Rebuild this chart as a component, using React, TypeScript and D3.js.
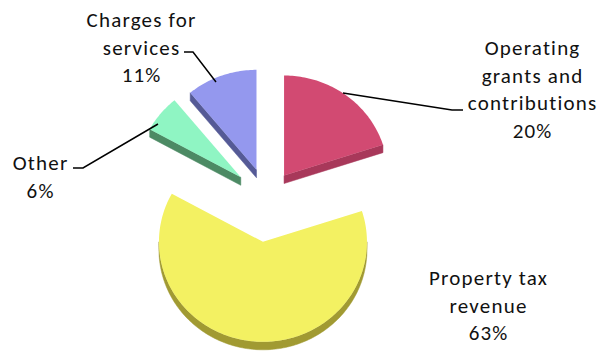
import React from "react";
import * as d3 from "d3";

const categories = [
  "Operating grants and contributions",
  "Property tax revenue",
  "Other",
  "Charges for services",
];
const values = [20, 63, 6, 11];
const labelLines = [
  ["Operating", "grants and", "contributions", "20%"],
  ["Property tax", "revenue", "63%"],
  ["Other", "6%"],
  ["Charges for", "services", "11%"],
];

// styles / layout (not data)
const topColors = ["#d24a72", "#f3f162", "#8ff5c3", "#9498ee"];
const wallColors = ["#a8385a", "#a19a32", "#4c8a64", "#555a96"];
const explode = [29, 43, 34, 31];
const labelPos = [
  { x: 532, y: 55 },
  { x: 488, y: 285 },
  { x: 40, y: 170 },
  { x: 141, y: 27 },
];
const leaders: ([number, number][] | null)[] = [
  [[343, 93], [452, 110], [463, 110]],
  null,
  [[73, 168], [83, 168], [158, 124]],
  [[184, 52], [193, 52], [216, 82]],
];

const W = 600;
const H = 354;
const CX = 267;
const CY = 199;
const RX = 104;
const RY = 100;
const DEPTH = 8;
const LS = 1.2;

function pt(cx: number, cy: number, a: number): [number, number] {
  return [cx + RX * Math.sin(a), cy - RY * Math.cos(a)];
}
function arcPts(cx: number, cy: number, s: number, e: number): [number, number][] {
  const n = Math.max(2, Math.ceil(Math.abs(e - s) / 0.02));
  const out: [number, number][] = [];
  for (let i = 0; i <= n; i++) out.push(pt(cx, cy, s + ((e - s) * i) / n));
  return out;
}

export default function App() {
  const pie = d3
    .pie<number>()
    .sort(null)
    .startAngle(0)
    .endAngle(2 * Math.PI)
    .value((d) => d);
  const arcs = pie(values);
  const line = d3.line();

  const slices = arcs.map((a, i) => {
    const mid = (a.startAngle + a.endAngle) / 2;
    const cx = CX + explode[i] * Math.sin(mid);
    const cy = CY - explode[i] * Math.cos(mid);
    const s = a.startAngle;
    const e = a.endAngle;
    const walls: string[] = [];
    if (Math.sin(s) < -1e-6) {
      const p = pt(cx, cy, s);
      walls.push(
        line([
          [cx, cy],
          p,
          [p[0], p[1] + DEPTH],
          [cx, cy + DEPTH],
        ])! + "Z"
      );
    }
    if (Math.sin(e) > 1e-6) {
      const p = pt(cx, cy, e);
      walls.push(
        line([
          [cx, cy],
          p,
          [p[0], p[1] + DEPTH],
          [cx, cy + DEPTH],
        ])! + "Z"
      );
    }
    const ws = Math.max(s, Math.PI / 2);
    const we = Math.min(e, (3 * Math.PI) / 2);
    if (we > ws) {
      const top = arcPts(cx, cy, ws, we);
      const bot = top.map(([x, y]) => [x, y + DEPTH] as [number, number]).reverse();
      walls.push(line([...top, ...bot])! + "Z");
    }
    const topPath = line([[cx, cy], ...arcPts(cx, cy, s, e)])! + "Z";
    return { walls, topPath, i };
  });

  return (
    <svg width={W} height={H} style={{ display: "block", position: "absolute", left: 0, top: 0 }}>
      <rect width={W} height={H} fill="#fff" />
      {slices.map((sl) => (
        <g key={categories[sl.i]}>
          {sl.walls.map((w, k) => (
            <path key={k} d={w} fill={wallColors[sl.i]} stroke={wallColors[sl.i]} strokeWidth={0.5} />
          ))}
          <path d={sl.topPath} fill={topColors[sl.i]} />
        </g>
      ))}
      {leaders.map((l, i) =>
        l ? <path key={i} d={line(l)!} fill="none" stroke="#000" strokeWidth={1.5} /> : null
      )}
      {labelLines.map((lines, i) => (
        <text
          key={i}
          x={labelPos[i].x}
          y={labelPos[i].y}
          textAnchor="middle"
          fontFamily="Carlito, Calibri, Lato, sans-serif"
          fontSize={21}
          letterSpacing={LS}
          fill="#111"
        >
          {lines.map((t, k) => (
            <tspan key={k} x={labelPos[i].x + LS / 2} y={labelPos[i].y + k * 27.7}>
              {t}
            </tspan>
          ))}
        </text>
      ))}
    </svg>
  );
}
